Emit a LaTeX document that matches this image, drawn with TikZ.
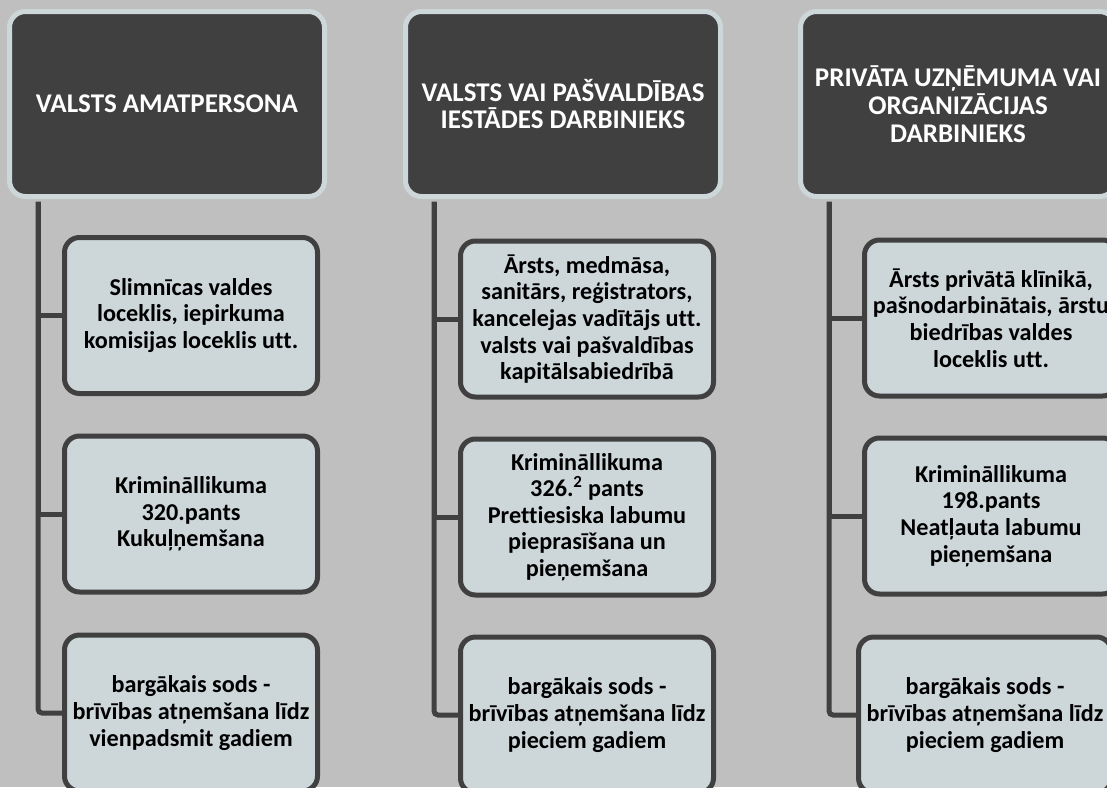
\documentclass[tikz,border=0pt]{standalone}
\usepackage{fontspec}
\setmainfont{Carlito}[Ligatures=NoCommon]
\definecolor{bg}{HTML}{BFBFBF}
\definecolor{dark}{HTML}{404040}
\definecolor{hborder}{HTML}{CDD7DA}
\definecolor{cfill}{HTML}{CDD6D9}
\begin{document}
\begin{tikzpicture}[x=1pt,y=-1pt,
  head/.style={draw=hborder, fill=dark, line width=5pt, rounded corners=16pt,
    minimum width=315pt, minimum height=185pt, text=white, align=center,
    font=\bfseries\fontsize{27}{27.8}\selectfont, inner sep=0pt},
  child/.style={draw=dark, fill=cfill, line width=5pt, rounded corners=15pt,
    minimum width=253pt, minimum height=156pt, text=black, align=center,
    font=\bfseries\fontsize{24.2}{26.6}\selectfont, inner sep=0pt},
  conn/.style={draw=dark, line width=5pt}]
\useasboundingbox (0,0) rectangle (1107,787);
\clip (0,0) rectangle (1107,787);
\fill[bg] (0,0) rectangle (1107,787);

% column 1
\node[head] (h1) at (167,104) {VALSTS AMATPERSONA};
\node[child] (c11) at (191,315.5) {Slimnīcas valdes\\loceklis, iepirkuma\\komisijas loceklis utt.};
\node[child] (c12) at (191,514) {Krimināllikuma\\320.pants\\Kukuļņemšana};
\node[child] (c13) at (191,713) {bargākais sods -\\brīvības atņemšana līdz\\vienpadsmit gadiem};

% column 2
\node[head] (h2) at (563,104) {VALSTS VAI PAŠVALDĪBAS\\IESTĀDES DARBINIEKS};
\node[child] (c21) at (587,319) {Ārsts, medmāsa,\\sanitārs, reģistrators,\\kancelejas vadītājs utt.\\valsts vai pašvaldības\\kapitālsabiedrībā};
\node[child] (c22) at (587,517) {Krimināllikuma\\326.\textsuperscript{2} pants\\Prettiesiska labumu\\pieprasīšana un\\pieņemšana};
\node[child] (c23) at (587,715) {bargākais sods -\\brīvības atņemšana līdz\\pieciem gadiem};

% column 3
\node[head] (h3) at (958,104) {PRIVĀTA UZŅĒMUMA VAI\\ORGANIZĀCIJAS\\DARBINIEKS};
\node[child] (c31) at (991,318) {Ārsts privātā klīnikā,\\pašnodarbinātais, ārstu\\biedrības valdes\\loceklis utt.};
\node[child] (c32) at (991,516) {Krimināllikuma\\198.pants\\Neatļauta labumu\\pieņemšana};
\node[child] (c33) at (985,715) {bargākais sods -\\brīvības atņemšana līdz\\pieciem gadiem};

% connectors
\foreach \h/\a/\b/\c in {h1/c11/c12/c13, h2/c21/c22/c23, h3/c31/c32/c33}{
  \draw[conn] ([xshift=31pt,yshift=-2.5pt]\h.south west) |- (\a.west);
  \draw[conn] ([xshift=31pt,yshift=-2.5pt]\h.south west) |- (\b.west);
  \draw[conn, rounded corners=4pt] ([xshift=31pt,yshift=-2.5pt]\h.south west) |- (\c.west);
}
\end{tikzpicture}
\end{document}
